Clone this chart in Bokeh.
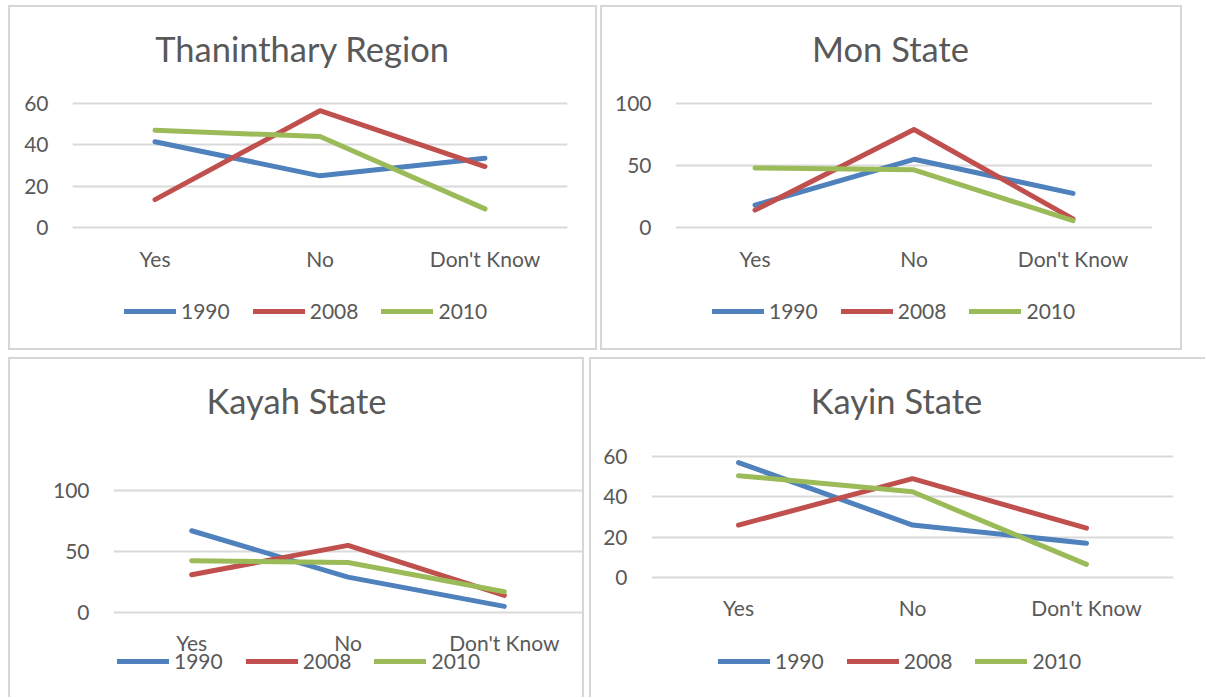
from bokeh.plotting import figure
from bokeh.models import FactorRange, Range1d, Legend, LegendItem, Label
from bokeh.layouts import column, row
from bokeh.embed import file_html
from bokeh.resources import INLINE

categories = ["Yes", "No", "Don't Know"]
years = ["1990", "2008", "2010"]

thaninthary_1990 = [41.5, 25, 33.5]
thaninthary_2008 = [13.5, 56.5, 29.5]
thaninthary_2010 = [47, 44, 9]

mon_1990 = [18, 55, 27.5]
mon_2008 = [14, 79, 7]
mon_2010 = [48, 46.5, 5.5]

kayah_1990 = [67, 29, 5]
kayah_2008 = [31, 55, 14]
kayah_2010 = [42.5, 41, 17]

kayin_1990 = [57, 26, 17]
kayin_2008 = [26, 49, 24.5]
kayin_2010 = [50.5, 42.5, 6.5]

thaninthary_ticks = [0, 20, 40, 60]
mon_ticks = [0, 50, 100]
kayah_ticks = [0, 50, 100]
kayin_ticks = [0, 20, 40, 60]

COLORS = ["#4F81BD", "#C0504D", "#9BBB59"]
TEXT = "#595959"
FONT = "Lato"
GRID = "#D9D9D9"
BORDER = "#D6D6D6"
BW = 2


def panel(title, series, ticks, g, border_sides):
    fx, fy, w, h = g["fig"]
    ox = fx + (BW if "left" in border_sides else 0)
    oy = fy + (BW if "top" in border_sides else 0)
    fl, fr, ft, fb = g["frame"]
    y_top, y_zero = g["ticks_px"]
    L = fl - ox
    R = ox + w - fr
    T = ft - oy
    B = oy + h - fb
    k = (y_zero - y_top) / ticks[-1]
    start = -(fb - y_zero) / k
    end = ticks[-1] + (y_top - ft) / k
    p = figure(width=w, height=h, x_range=FactorRange(*categories),
               y_range=Range1d(start, end), output_backend="svg",
               toolbar_location=None, title=None,
               min_border_left=L, min_border_right=R,
               min_border_top=T, min_border_bottom=B)
    p.outline_line_color = None
    p.background_fill_color = "white"
    p.border_fill_color = "white"
    p.xgrid.grid_line_color = None
    p.ygrid.grid_line_color = GRID
    p.ygrid.grid_line_width = 2
    p.yaxis.ticker = ticks
    for ax in (p.xaxis[0], p.yaxis[0]):
        ax.axis_line_color = None
        ax.major_tick_line_color = None
        ax.minor_tick_line_color = None
        ax.major_label_text_font = FONT
        ax.major_label_text_font_size = "21px"
        ax.major_label_text_color = TEXT
    p.yaxis.major_label_standoff = 18
    p.xaxis.fixed_location = ticks[0]
    p.xaxis.major_label_standoff = g["xstandoff"]

    items = []
    for name, vals, c in zip(years, series, COLORS):
        r = p.line(x=categories, y=vals, line_width=5, color=c,
                   line_cap="round", line_join="round")
        items.append(LegendItem(label=name, renderers=[r]))

    lx, lcy = g["legend"]
    lh = 20
    legend = Legend(items=items, orientation="horizontal",
                    location=(lx - fl, fb - lh - (lcy - lh / 2)),
                    glyph_width=52, glyph_height=lh, label_height=lh,
                    label_standoff=5, spacing=23, padding=0, margin=0,
                    border_line_color=None, background_fill_alpha=0,
                    label_text_font=FONT, label_text_font_size="21px",
                    label_text_color=TEXT)
    p.add_layout(legend)

    tcx, tcy = g["title"]
    p.add_layout(Label(x=tcx - fl, y=fb - tcy, x_units="screen", y_units="screen",
                       text=title, text_align="center", text_baseline="middle",
                       text_font=FONT, text_font_size="34.5px", text_color=TEXT))
    st = {"box-sizing": "border-box"}
    for s in border_sides:
        st["border-" + s] = "%dpx solid %s" % (BW, BORDER)
    p.styles = st
    return p


g1 = dict(fig=(8, 5, 589, 345), frame=(72, 567, 12, 340), ticks_px=(103, 227),
          title=(302, 48), legend=(124, 313), xstandoff=12)
g2 = dict(fig=(600, 5, 582, 345), frame=(675, 1152, 12, 340), ticks_px=(103, 227),
          title=(890, 48), legend=(712, 313), xstandoff=12)
g3 = dict(fig=(8, 357, 576, 340), frame=(113, 582, 364, 690), ticks_px=(490, 612),
          title=(296, 400), legend=(117, 663), xstandoff=11)
g4 = dict(fig=(589, 357, 616, 340), frame=(651, 1173, 364, 690), ticks_px=(456, 577),
          title=(896, 400), legend=(718, 663), xstandoff=11)

p1 = panel("Thaninthary Region", [thaninthary_1990, thaninthary_2008, thaninthary_2010],
           thaninthary_ticks, g1, ["top", "left", "right", "bottom"])
p2 = panel("Mon State", [mon_1990, mon_2008, mon_2010], mon_ticks, g2,
           ["top", "left", "right", "bottom"])
p3 = panel("Kayah State", [kayah_1990, kayah_2008, kayah_2010], kayah_ticks, g3,
           ["top", "left", "right"])
p4 = panel("Kayin State", [kayin_1990, kayin_2008, kayin_2010], kayin_ticks, g4,
           ["top", "left"])

p1.margin = (5, 0, 0, 8)
p2.margin = (5, 0, 0, 3)
p3.margin = (7, 0, 0, 8)
p4.margin = (7, 0, 0, 5)

layout = column(row(p1, p2), row(p3, p4))

open("out.html", "w").write(file_html(layout, INLINE))
